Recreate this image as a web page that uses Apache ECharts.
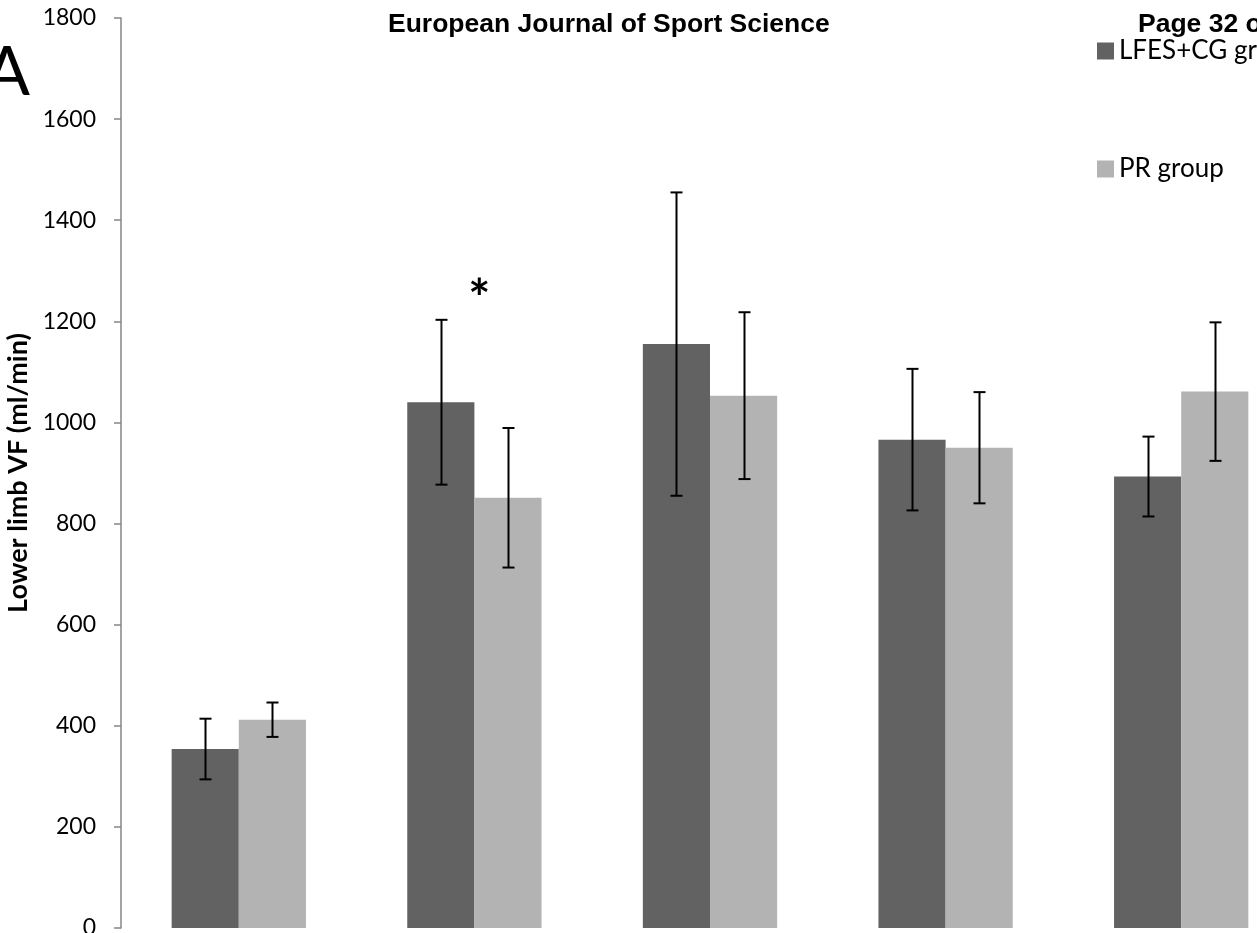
<!DOCTYPE html>
<html>
<head>
<meta charset="utf-8">
<script src="https://cdn.jsdelivr.net/npm/echarts@6/dist/echarts.min.js"></script>
<style>html,body{margin:0;padding:0;background:#fff;}#c{width:1257px;height:933px;}</style>
</head>
<body>
<div id="c"></div>
<script>
var categories = ['T1', 'T2', 'T3', 'T4', 'T5'];
var seriesNames = ['LFES+CG group', 'PR group'];
var lfesMean = [354, 1040, 1155, 966, 893];
var lfesErr = [60, 163, 300, 140, 79];
var prMean = [412, 851, 1053, 950, 1061];
var prErr = [34, 138, 165, 110, 137];
var yTicks = [0, 200, 400, 600, 800, 1000, 1200, 1400, 1600, 1800];
var sigCategory = [1];
var sigValue = [1265];
var sigLabel = ['*'];

var chart = echarts.init(document.getElementById('c'), null, {renderer: 'canvas'});
var GAP = 0.43;

function errSeries(means, errs, side) {
  return {
    type: 'custom',
    silent: true,
    z: 5,
    data: means.map(function (m, i) { return [i, m - errs[i], m + errs[i]]; }),
    renderItem: function (params, api) {
      var band = api.size([1, 0])[0];
      var bw = band * (1 - GAP) / 2;
      var lo = api.coord([api.value(0), api.value(1)]);
      var hi = api.coord([api.value(0), api.value(2)]);
      var x = Math.round(lo[0] + side * bw / 2) + 0.5;
      var st = {stroke: '#000', lineWidth: 2};
      return {type: 'group', children: [
        {type: 'line', shape: {x1: x, y1: lo[1], x2: x, y2: hi[1]}, style: st},
        {type: 'line', shape: {x1: x - 6, y1: lo[1], x2: x + 6, y2: lo[1]}, style: st},
        {type: 'line', shape: {x1: x - 6, y1: hi[1], x2: x + 6, y2: hi[1]}, style: st}
      ]};
    }
  };
}

chart.setOption({
  animation: false,
  backgroundColor: '#fff',
  grid: {left: 121, top: 18, width: 1178, height: 910, outerBoundsMode: 'none', containLabel: false},
  legend: {
    data: seriesNames,
    orient: 'vertical',
    left: 1092, top: 33,
    itemWidth: 17, itemHeight: 17,
    itemGap: 92,
    icon: 'rect',
    textStyle: {fontFamily: 'Lato', fontSize: 26, color: '#000', lineHeight: 26}
  },
  xAxis: {
    type: 'category',
    data: categories,
    axisLine: {show: false},
    axisTick: {show: false},
    axisLabel: {show: false},
    splitLine: {show: false}
  },
  yAxis: {
    type: 'value',
    min: 0, max: 1800, interval: 200,
    name: 'Lower limb VF (ml/min)',
    nameLocation: 'middle',
    nameRotate: 90,
    nameGap: 89,
    nameTextStyle: {fontFamily: 'Lato', fontWeight: 'bold', fontSize: 27, color: '#000'},
    axisLine: {show: true, lineStyle: {color: '#868686', width: 1.5}},
    axisTick: {show: true, inside: false, length: 7, lineStyle: {color: '#868686', width: 1.5}},
    axisLabel: {
      margin: 25, fontFamily: 'Lato', fontSize: 23, color: '#000',
      formatter: function (v) { return yTicks.indexOf(v) >= 0 ? String(v) : ''; }
    },
    splitLine: {show: false}
  },
  series: [
    {name: seriesNames[0], type: 'bar', data: lfesMean, barGap: '0%', barCategoryGap: (GAP * 100) + '%',
     itemStyle: {color: '#626262'}},
    {name: seriesNames[1], type: 'bar', data: prMean, barGap: '0%', barCategoryGap: (GAP * 100) + '%',
     itemStyle: {color: '#b3b3b3'}},
    errSeries(lfesMean, lfesErr, -1),
    errSeries(prMean, prErr, 1),
    {
      type: 'custom', silent: true, z: 6,
      data: sigCategory.map(function (c, i) { return [c, sigValue[i], sigLabel[i]]; }),
      renderItem: function (params, api) {
        var p = api.coord([api.value(0), api.value(1)]);
        return {type: 'text', x: p[0] + 5, y: p[1] + 12,
          style: {text: sigLabel[params.dataIndex], fontFamily: 'Lato', fontSize: 52, fontWeight: 'bold', fill: '#000', align: 'center', verticalAlign: 'middle'}};
      }
    }
  ],
  graphic: [
    {type: 'text', left: 388, top: 11, style: {text: 'European Journal of Sport Science', fontFamily: 'Liberation Sans', fontWeight: 'bold', fontSize: 26.5, fill: '#000'}},
    {type: 'text', left: 1138, top: 11, style: {text: 'Page 32 of', fontFamily: 'Liberation Sans', fontWeight: 'bold', fontSize: 26.5, fill: '#000'}},
    {type: 'text', left: -16, top: 39, style: {text: 'A', fontFamily: 'Lato', fontSize: 68, fill: '#000'}}
  ]
});
</script>
</body>
</html>
